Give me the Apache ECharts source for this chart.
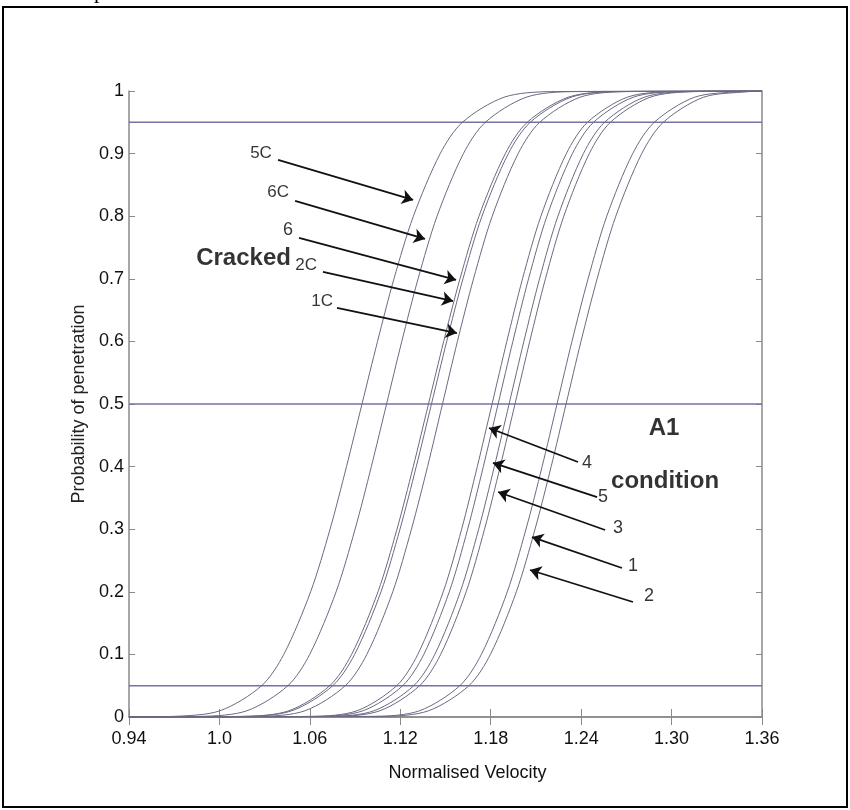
<!DOCTYPE html>
<html>
<head>
<meta charset="utf-8">
<script src="https://cdn.jsdelivr.net/npm/echarts@6/dist/echarts.min.js"></script>
<style>
html,body{margin:0;padding:0;background:#fff;}
#chart{width:850px;height:810px;}
</style>
</head>
<body>
<div id="chart"></div>
<script>
// probability levels at which the x positions of each curve were read
const probLevels = [0.001, 0.01, 0.05, 0.1, 0.2, 0.3, 0.4, 0.5, 0.6, 0.7, 0.8, 0.9, 0.95, 0.99, 0.999];

// normalised velocity read for each curve at the probability levels above
const curve5C = [0.9695, 1.0004, 1.0280, 1.0427, 1.0605, 1.0734, 1.0843, 1.0946, 1.1049, 1.1158, 1.1287, 1.1465, 1.1612, 1.1888, 1.2197];
const curve6C = [0.9879, 1.0183, 1.0454, 1.0599, 1.0774, 1.0900, 1.1008, 1.1109, 1.1210, 1.1318, 1.1444, 1.1619, 1.1764, 1.2035, 1.2339];
const curve6  = [1.0157, 1.0461, 1.0732, 1.0877, 1.1052, 1.1178, 1.1286, 1.1387, 1.1488, 1.1596, 1.1722, 1.1897, 1.2042, 1.2313, 1.2617];
const curve2C = [1.0177, 1.0481, 1.0752, 1.0897, 1.1072, 1.1198, 1.1306, 1.1407, 1.1508, 1.1616, 1.1742, 1.1917, 1.2062, 1.2333, 1.2637];
const curve1C = [1.0269, 1.0568, 1.0835, 1.0978, 1.1150, 1.1274, 1.1381, 1.1480, 1.1579, 1.1686, 1.1810, 1.1982, 1.2125, 1.2392, 1.2691];
const curve4  = [1.0619, 1.0913, 1.1176, 1.1316, 1.1485, 1.1607, 1.1711, 1.1809, 1.1907, 1.2011, 1.2133, 1.2302, 1.2442, 1.2705, 1.2999];
const curve5  = [1.0659, 1.0953, 1.1216, 1.1356, 1.1525, 1.1647, 1.1751, 1.1849, 1.1947, 1.2051, 1.2173, 1.2342, 1.2482, 1.2745, 1.3039];
const curve3  = [1.0732, 1.1026, 1.1289, 1.1429, 1.1598, 1.1720, 1.1824, 1.1922, 1.2020, 1.2124, 1.2246, 1.2415, 1.2555, 1.2818, 1.3112];
const curveA1u = [1.0771, 1.1065, 1.1328, 1.1468, 1.1637, 1.1759, 1.1863, 1.1961, 1.2059, 1.2163, 1.2285, 1.2454, 1.2594, 1.2857, 1.3151];
const curve1  = [1.1029, 1.1328, 1.1595, 1.1738, 1.1910, 1.2034, 1.2141, 1.2240, 1.2339, 1.2446, 1.2570, 1.2742, 1.2885, 1.3152, 1.3451];
const curve2  = [1.1089, 1.1388, 1.1655, 1.1798, 1.1970, 1.2094, 1.2201, 1.2300, 1.2399, 1.2506, 1.2630, 1.2802, 1.2945, 1.3212, 1.3511];

const curveNames = ['5C', '6C', '6', '2C', '1C', '4', '5', '3', 'A1 (unlabelled)', '1', '2'];
const curveValues = [curve5C, curve6C, curve6, curve2C, curve1C, curve4, curve5, curve3, curveA1u, curve1, curve2];

// horizontal reference levels
const refLevels = [0.05, 0.5, 0.95];

// axis ticks
const xMin = 0.94, xMax = 1.36;
const xTickValues = [0.94, 1.0, 1.06, 1.12, 1.18, 1.24, 1.30, 1.36];
const xTickLabels = ['0.94', '1.0', '1.06', '1.12', '1.18', '1.24', '1.30', '1.36'];
const yTickLabels = ['0', '0.1', '0.2', '0.3', '0.4', '0.5', '0.6', '0.7', '0.8', '0.9', '1'];

// annotations (data coordinates)
const arrowLabels = ['5C', '6C', '6', '2C', '1C', '4', '5', '3', '1', '2'];
const arrowLabelAt = [[1.0276,0.9010],[1.0389,0.8387],[1.0455,0.7780],[1.0575,0.7220],[1.0681,0.6645],
                      [1.2439,0.4058],[1.2545,0.3514],[1.2645,0.3019],[1.2744,0.2412],[1.2851,0.1933]];
const arrowFrom = [[1.0389,0.8898],[1.0502,0.8243],[1.0528,0.7652],[1.0687,0.7109],[1.0780,0.6534],
                   [1.2379,0.4073],[1.2506,0.3514],[1.2559,0.2987],[1.2671,0.2380],[1.2744,0.1837]];
const arrowTo = [[1.1285,0.8259],[1.1364,0.7636],[1.1570,0.6981],[1.1550,0.6645],[1.1576,0.6134],
                 [1.1789,0.4617],[1.1815,0.4058],[1.1849,0.3594],[1.2074,0.2875],[1.2061,0.2348]];
const groupLabels = ['Cracked', 'A1', 'condition'];
const groupLabelAt = [[1.0160,0.7332],[1.2950,0.4617],[1.2957,0.3770]];

const FONT = '"Liberation Sans", Arial, Helvetica, sans-serif';
const AXIS_COLOR = '#8a8a8a';
const CURVE_COLOR = '#6a6a84';
const REF_COLOR = '#7373a6';

const series = [];
curveValues.forEach((xs, i) => {
  const data = [[xMin, 0]];
  xs.forEach((x, j) => data.push([x, probLevels[j]]));
  data.push([xMax, 1]);
  series.push({
    name: curveNames[i], type: 'line', data: data, showSymbol: false,
    smooth: 0.3,
    lineStyle: { color: CURVE_COLOR, width: 1 }, z: 3, silent: true
  });
});
refLevels.forEach((lv) => {
  series.push({
    name: 'ref ' + lv, type: 'line', data: [[xMin, lv], [xMax, lv]], showSymbol: false,
    lineStyle: { color: REF_COLOR, width: 1.6 }, z: 2, silent: true
  });
});

const annData = [];
arrowLabels.forEach((t, i) => {
  annData.push({ value: arrowLabelAt[i], name: t,
    label: { show: true, formatter: t, fontFamily: FONT, fontSize: t.length > 1 ? 17 : 18, color: '#000' } });
});
groupLabels.forEach((t, i) => {
  annData.push({ value: groupLabelAt[i], name: t,
    label: { show: true, formatter: t, fontFamily: FONT, fontSize: 24, fontWeight: 'bold', color: '#000' } });
});
series.push({
  name: 'annotations', type: 'scatter', data: annData, symbolSize: 0, z: 10, silent: true,
  label: { show: true, position: 'inside' },
  markLine: {
    silent: true, symbol: ['none', 'arrow'], symbolSize: 11, animation: false,
    lineStyle: { color: '#111', width: 1.8, type: 'solid' },
    label: { show: false },
    data: arrowFrom.map((f, i) => [{ coord: f }, { coord: arrowTo[i] }])
  }
});

const chart = echarts.init(document.getElementById('chart'), null, { renderer: 'canvas' });
chart.setOption({
  animation: false,
  backgroundColor: '#fff',
  grid: { left: 129, right: 88, top: 91, bottom: 93 },
  xAxis: [{
    type: 'value', min: xMin, max: xMax, position: 'bottom',
    name: 'Normalised Velocity', nameLocation: 'middle', nameGap: 47,
    nameTextStyle: { fontFamily: FONT, fontSize: 18, color: '#111', padding: [0, 0, 0, 44] },
    axisLine: { show: true, lineStyle: { color: AXIS_COLOR, width: 1.5 } },
    axisTick: { show: true, inside: true, length: 8, customValues: xTickValues, lineStyle: { color: AXIS_COLOR } },
    axisLabel: { customValues: xTickValues, margin: 13, fontFamily: FONT, fontSize: 18, color: '#111',
      formatter: (v) => { const k = xTickValues.findIndex(t => Math.abs(t - v) < 1e-6); return k >= 0 ? xTickLabels[k] : ''; } },
    splitLine: { show: false }
  }, {
    type: 'value', min: xMin, max: xMax, position: 'top',
    axisLine: { show: true, lineStyle: { color: AXIS_COLOR, width: 1.5 } },
    axisTick: { show: true, inside: true, length: 8, customValues: xTickValues, lineStyle: { color: AXIS_COLOR } },
    axisLabel: { show: false }, splitLine: { show: false }
  }],
  yAxis: [{
    type: 'value', min: 0, max: 1, interval: 0.1, position: 'left',
    name: 'Probability of penetration', nameLocation: 'middle', nameGap: 41,
    nameTextStyle: { fontFamily: FONT, fontSize: 18, color: '#222' },
    axisLine: { show: true, lineStyle: { color: AXIS_COLOR, width: 1.5 } },
    axisTick: { show: true, inside: true, length: 6, lineStyle: { color: AXIS_COLOR } },
    axisLabel: { margin: 5, fontFamily: FONT, fontSize: 18, color: '#111',
      formatter: (v) => yTickLabels[Math.round(v * 10)] },
    splitLine: { show: false }
  }, {
    type: 'value', min: 0, max: 1, interval: 0.1, position: 'right',
    axisLine: { show: true, lineStyle: { color: AXIS_COLOR, width: 1.5 } },
    axisTick: { show: true, inside: true, length: 6, lineStyle: { color: AXIS_COLOR } },
    axisLabel: { show: false }, splitLine: { show: false }
  }],
  graphic: [
    { type: 'rect', shape: { x: 3, y: 7, width: 844, height: 800 }, style: { fill: 'none', stroke: '#000', lineWidth: 2 }, z: 100, silent: true },
    { type: 'text', x: 94, y: 3, style: { text: 'p', font: '22px "Liberation Serif", serif', fill: '#000', verticalAlign: 'bottom' }, silent: true }
  ],
  series: series
});
</script>
</body>
</html>
